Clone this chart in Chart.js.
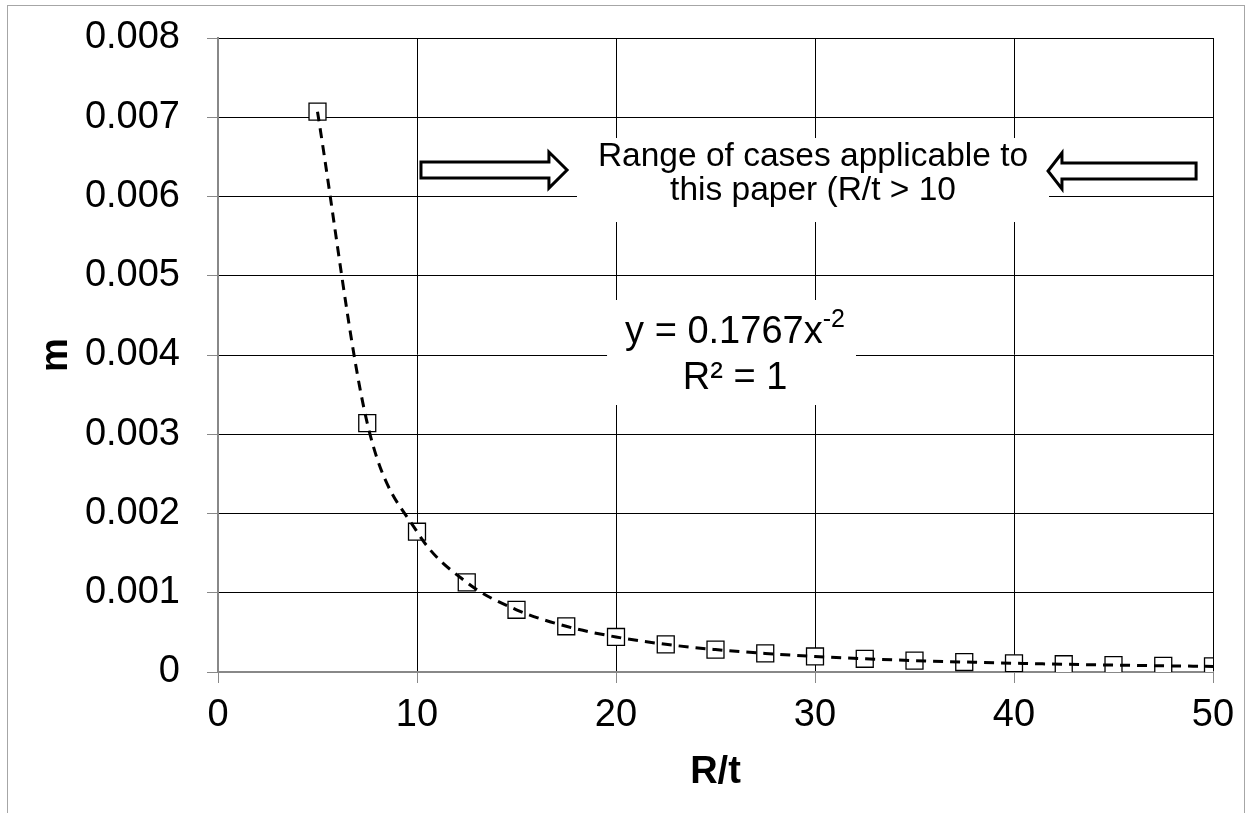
<!DOCTYPE html>
<html>
<head>
<meta charset="utf-8">
<script src="https://cdn.jsdelivr.net/npm/chart.js@4/dist/chart.umd.min.js"></script>
<style>
  html, body { margin: 0; padding: 0; background: #fff; }
  #wrap { width: 1250px; height: 813px; position: relative; }
</style>
</head>
<body>
<div id="wrap"><canvas id="c" width="1250" height="813"></canvas></div>
<script>
// ---- data ----
const ratioRt = [5, 7.5, 10, 12.5, 15, 17.5, 20, 22.5, 25, 27.5, 30, 32.5, 35, 37.5, 40, 42.5, 45, 47.5, 50];
const mValues = [0.00707, 0.00314, 0.00177, 0.00113, 0.000785, 0.000577, 0.000442, 0.000349, 0.000283, 0.000234,
                 0.000196, 0.000167, 0.000144, 0.000126, 0.00011, 0.0000978, 0.0000873, 0.0000783, 0.0000707];
const xTicks = [0, 10, 20, 30, 40, 50];
const yTicks = [0, 0.001, 0.002, 0.003, 0.004, 0.005, 0.006, 0.007, 0.008];
const rangeText = ['Range of cases applicable to', 'this paper (R/t > 10'];
const eqMain = 'y = 0.1767x';
const eqSup = '-2';
const r2Text = 'R² = 1';

const points = ratioRt.map((x, i) => ({ x: x, y: mValues[i] }));
const FONT = '"Liberation Sans", Arial, sans-serif';

const annotations = {
  id: 'annotations',
  beforeDatasetsDraw(chart) {
    const ctx = chart.ctx;
    const xs = chart.scales.x, ys = chart.scales.y;
    const px = v => xs.getPixelForValue(v);
    const py = v => ys.getPixelForValue(v);
    ctx.save();
    // text box 1
    ctx.fillStyle = '#fff';
    ctx.fillRect(px(18.04), py(0.006738), px(41.76) - px(18.04), py(0.005678) - py(0.006738));
    ctx.fillStyle = '#000';
    ctx.font = '33.5px ' + FONT;
    ctx.textAlign = 'center';
    ctx.textBaseline = 'middle';
    ctx.fillText(rangeText[0], px(29.9), py(0.006498));
    ctx.fillText(rangeText[1], px(29.9), py(0.006069));
    // text box 2
    ctx.fillStyle = '#fff';
    ctx.fillRect(px(19.55), py(0.004694), px(32.06) - px(19.55), py(0.003369) - py(0.004694));
    ctx.fillStyle = '#000';
    ctx.font = '38px ' + FONT;
    const w1 = ctx.measureText(eqMain).width;
    ctx.font = '25px ' + FONT;
    const w2 = ctx.measureText(eqSup).width;
    const cx = px(25.98);
    const startX = cx - (w1 + w2) / 2;
    ctx.textAlign = 'left';
    ctx.font = '38px ' + FONT;
    ctx.fillText(eqMain, startX, py(0.00429));
    ctx.font = '25px ' + FONT;
    ctx.fillText(eqSup, startX + w1, py(0.00429) - 12);
    ctx.font = '38px ' + FONT;
    ctx.textAlign = 'center';
    ctx.fillText(r2Text, cx, py(0.003697));

    // arrows
    function arrow(tail, base, tip, yv) {
      const y = py(yv);
      const xt = px(tail), xb = px(base), xp = px(tip);
      const sh = 8, hh = 18;
      ctx.beginPath();
      ctx.moveTo(xt, y - sh);
      ctx.lineTo(xb, y - sh);
      ctx.lineTo(xb, y - hh);
      ctx.lineTo(xp, y);
      ctx.lineTo(xb, y + hh);
      ctx.lineTo(xb, y + sh);
      ctx.lineTo(xt, y + sh);
      ctx.closePath();
      ctx.fillStyle = '#fff';
      ctx.fill();
      ctx.lineWidth = 3;
      ctx.lineJoin = 'miter';
      ctx.strokeStyle = '#000';
      ctx.stroke();
    }
    arrow(10.2, 16.63, 17.54, 0.006334);
    arrow(49.15, 42.41, 41.71, 0.006322);
    ctx.restore();
  },
  afterDraw(chart) {
    const ctx = chart.ctx;
    ctx.save();
    ctx.strokeStyle = '#a6a6a6';
    ctx.lineWidth = 1;
    ctx.strokeRect(7.5, 5.5, 1237, 820);
    ctx.restore();
  }
};

new Chart(document.getElementById('c'), {
  type: 'scatter',
  data: {
    datasets: [
      {
        label: 'trend',
        data: points,
        showLine: true,
        borderColor: '#000',
        borderWidth: 3,
        borderDash: [10, 7],
        cubicInterpolationMode: 'monotone',
        pointRadius: 0,
        fill: false
      },
      {
        label: 'm',
        data: points,
        showLine: false,
        pointStyle: 'rect',
        pointRadius: 12,
        pointBorderWidth: 1.3,
        pointBorderColor: '#000',
        pointBackgroundColor: '#fff'
      }
    ]
  },
  plugins: [annotations],
  options: {
    responsive: false,
    animation: false,
    devicePixelRatio: 1,
    layout: { padding: { top: 38, right: 37, left: 0, bottom: 0 } },
    plugins: { legend: { display: false }, tooltip: { enabled: false } },
    scales: {
      x: {
        type: 'linear',
        min: 0, max: 50,
        afterBuildTicks: s => { s.ticks = xTicks.map(v => ({ value: v })); },
        afterFit: s => { s.height = 141; s.paddingLeft = 0; s.paddingRight = 0; },
        grid: { color: '#000', lineWidth: 1, tickColor: '#888', tickLength: 11 },
        border: { color: '#888', width: 2 },
        ticks: { color: '#000', font: { family: FONT, size: 38 }, padding: 10, maxRotation: 0 },
        title: { display: true, text: 'R/t', color: '#000', font: { family: FONT, size: 38, weight: 'bold' }, padding: { top: 18, bottom: 18 } }
      },
      y: {
        type: 'linear',
        min: 0, max: 0.008,
        afterBuildTicks: s => { s.ticks = yTicks.map(v => ({ value: v })); },
        afterFit: s => { s.width = 218; s.paddingTop = 0; s.paddingBottom = 0; },
        grid: { color: '#000', lineWidth: 1, tickColor: '#888', tickLength: 11 },
        border: { color: '#888', width: 2 },
        ticks: { color: '#000', font: { family: FONT, size: 38 }, padding: 27,
                 callback: v => v === 0 ? '0' : v.toFixed(3) },
        title: { display: true, text: 'm', color: '#000', font: { family: FONT, size: 38, weight: 'bold' }, padding: { top: 34, bottom: 0 } }
      }
    }
  }
});
</script>
</body>
</html>
